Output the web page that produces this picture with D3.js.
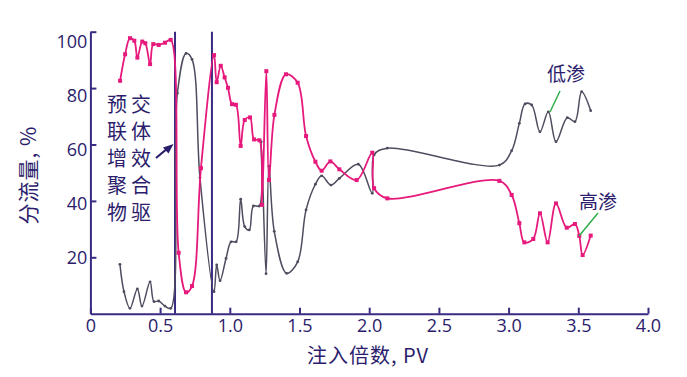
<!DOCTYPE html>
<html><head><meta charset="utf-8">
<script src="https://cdn.jsdelivr.net/npm/d3@7"></script>
<style>body{margin:0;background:#fff;} svg{display:block}</style>
</head><body><svg id="c" width="687" height="377"></svg>
<script>
// ---- data ----
const pinkX = [0.213,0.249,0.284,0.315,0.337,0.372,0.394,0.428,0.451,0.49,0.535,0.576,0.633,0.686,0.729,0.793,0.887,0.906,0.935,0.963,0.987,1.016,1.044,1.078,1.107,1.145,1.174,1.212,1.23,1.262,1.281,1.32,1.403,1.487,1.547,1.614,1.659,1.721,1.786,1.91,2.022,2.035,2.13,2.934,3.022,3.077,3.113,3.177,3.225,3.28,3.34,3.417,3.476,3.507,3.531,3.589];
const pinkY = [82.6,92.0,97.7,96.8,90.8,96.5,95.9,88.5,95.6,95.3,96.1,97.1,21.6,7.6,9.8,51.6,91.7,82.1,87.9,83.8,80.1,74.3,74.1,59.5,68.7,69.6,61.8,61.5,38.6,86,47.4,70.5,84.9,81.9,63,53.9,50.7,54,51.2,47.4,57.1,44.5,40.9,47.1,42.1,32.1,25.3,26.5,35.6,25.3,39.1,30.5,31.8,27.6,20.8,27.7];
const grayX = [0.212,0.241,0.284,0.337,0.37,0.428,0.456,0.49,0.535,0.576,0.624,0.686,0.729,0.786,0.887,0.906,0.93,0.973,1.009,1.045,1.078,1.107,1.14,1.169,1.212,1.225,1.26,1.281,1.319,1.408,1.487,1.547,1.614,1.659,1.726,1.786,1.922,2.022,2.035,2.13,2.934,3.022,3.077,3.118,3.166,3.225,3.285,3.34,3.421,3.476,3.524,3.589];
const grayY = [17.5,7.8,1.9,8.8,2.7,11.3,4.3,4.5,2.7,1.9,78.2,92.3,90.2,48.2,7.8,17.3,11.7,19.6,25.5,25.5,40.6,30.9,29.7,38.2,38.2,61,14.2,52.3,29.2,14.3,18.4,36.8,45.9,48.9,45.6,48,53,42.7,56.3,58.7,52.7,57.8,67.5,74.4,74,64.5,71.6,61,69.5,68.1,78.7,72];
const xTicks = [0,0.5,1,1.5,2,2.5,3,3.5,4];
const yTicks = [20,40,60,80,100];
const markLines = [0.607,0.872];
const sideLabel = ["预交","联体","增效","聚合","物驱"];
const xTitle = "注入倍数, PV";
const yTitle = "分流量, %";
const lowLabel = "低渗", highLabel = "高渗";

// ---- styles ----
const AX = "#3a2a82", TXT = "#2b1c6c", PINK = "#e6197c", GRAY = "#4e4c5e", GREEN = "#2fae4a";
const NUMF = "'Open Sans', 'Noto Sans', sans-serif";
const CJK = "'Noto Sans CJK SC', sans-serif";

const svg = d3.select("#c");
const x = d3.scaleLinear().domain([0,4]).range([90.4,648]);
const y = d3.scaleLinear().domain([0,100]).range([313.7,31.7]);

// axes
const gx = svg.append("g").attr("transform",`translate(0,${y(0)})`)
  .call(d3.axisBottom(x).tickValues(xTicks).tickSize(-6).tickSizeOuter(0).tickPadding(6)
    .tickFormat(d => d===0 ? "0" : d3.format(".1f")(d)));
const gy = svg.append("g").attr("transform",`translate(${x(0)},0)`)
  .call(d3.axisLeft(y).tickValues(yTicks).tickSize(-6).tickSizeOuter(0).tickPadding(3));
[gx,gy].forEach(g=>{
  g.select(".domain").attr("stroke",AX).attr("stroke-width",2);
  g.selectAll(".tick line").attr("stroke",AX).attr("stroke-width",2);
  g.selectAll(".tick text").attr("fill",TXT).style("font-family",NUMF).style("font-size","18px");
});
gy.selectAll(".tick text").attr("dy", d => (0.32*18 + 0.7 + (d-20)*9.6/80) + "px");

// vertical marker lines
svg.selectAll(".vl").data(markLines).enter().append("line")
  .attr("x1",d=>x(d)).attr("x2",d=>x(d)).attr("y1",y(100)).attr("y2",y(0))
  .attr("stroke",AX).attr("stroke-width",2);

function series(xs, ys, color, w){
  const pts = xs.map((v,i)=>[v, ys[i]]);
  const line = d3.line().x(d=>x(d[0])).y(d=>y(d[1])).curve(d3.curveCatmullRom.alpha(0.5));
  svg.append("path").attr("d",line(pts)).attr("fill","none").attr("stroke",color).attr("stroke-width",w);
  return pts;
}
const gp = series(grayX, grayY, GRAY, 1.5);
svg.selectAll(".gm").data(gp).enter().append("circle")
  .attr("cx",d=>x(d[0])).attr("cy",d=>y(d[1])).attr("r",1.4).attr("fill",GRAY);
const pp = series(pinkX, pinkY, PINK, 1.8);
svg.selectAll(".pm").data(pp).enter().append("rect")
  .attr("x",d=>x(d[0])-2).attr("y",d=>y(d[1])-2).attr("width",4).attr("height",4).attr("fill",PINK);

// titles
svg.append("text").attr("x",368).attr("y",363).attr("text-anchor","middle")
  .attr("fill",TXT).style("font-family",CJK).style("font-size","20px").style("letter-spacing","1px").text(xTitle);
svg.append("text").attr("transform","translate(36,175) rotate(-90)").attr("text-anchor","middle")
  .attr("fill",TXT).style("font-family",CJK).style("font-size","21px").style("letter-spacing","1px").text(yTitle);

// side label
svg.selectAll(".sl").data(sideLabel).enter().append("text")
  .attr("x",107).attr("y",(d,i)=>112+i*27)
  .attr("fill",TXT).style("font-family",CJK).style("font-size","20px").style("letter-spacing","4px")
  .text(d=>d);

// arrow
svg.append("line").attr("x1",156).attr("y1",158).attr("x2",168).attr("y2",148)
  .attr("stroke",TXT).attr("stroke-width",2.2);
svg.append("path").attr("d","M173.5,144 L163,147.5 L168.5,153.5 Z").attr("fill",TXT);

// annotations
svg.append("text").attr("x",566).attr("y",81).attr("text-anchor","middle")
  .attr("fill",TXT).style("font-family",CJK).style("font-size","19px").text(lowLabel);
svg.append("line").attr("x1",560).attr("y1",91).attr("x2",550).attr("y2",112).attr("stroke",GREEN).attr("stroke-width",1.5);
svg.append("text").attr("x",598).attr("y",209).attr("text-anchor","middle")
  .attr("fill",TXT).style("font-family",CJK).style("font-size","19px").text(highLabel);
svg.append("line").attr("x1",598).attr("y1",213).attr("x2",579).attr("y2",236).attr("stroke",GREEN).attr("stroke-width",1.5);
</script></body></html>
